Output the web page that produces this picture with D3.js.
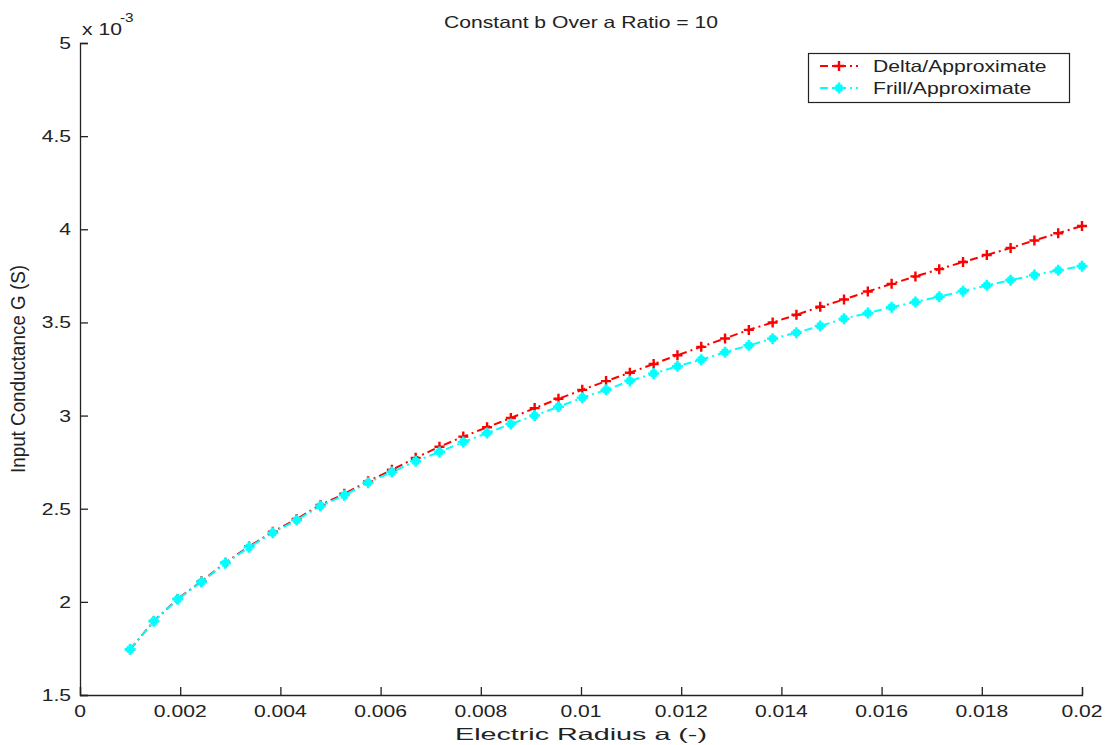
<!DOCTYPE html>
<html>
<head>
<meta charset="utf-8">
<script src="https://cdn.jsdelivr.net/npm/d3@7"></script>
<style>
  body { margin: 0; background: #fff; }
  text { font-family: "Liberation Sans", Arial, sans-serif; fill: #222; }
</style>
</head>
<body>
<div id="chart"></div>
<script>
// donnees (G en unites de 1e-3 S)
var radius = [0.001, 0.001475, 0.00195, 0.002425, 0.0029, 0.003375, 0.00385, 0.004325, 0.0048, 0.005275,
              0.00575, 0.006225, 0.0067, 0.007175, 0.00765, 0.008125, 0.0086, 0.009075, 0.00955, 0.010025,
              0.0105, 0.010975, 0.01145, 0.011925, 0.0124, 0.012875, 0.01335, 0.013825, 0.0143, 0.014775,
              0.01525, 0.015725, 0.0162, 0.016675, 0.01715, 0.017625, 0.0181, 0.018575, 0.01905, 0.019525, 0.02];
var deltaG = [1.745, 1.897, 2.016, 2.110, 2.210, 2.297, 2.376, 2.445, 2.520, 2.580,
              2.647, 2.709, 2.773, 2.833, 2.887, 2.937, 2.987, 3.040, 3.090, 3.138,
              3.185, 3.230, 3.277, 3.324, 3.369, 3.414, 3.460, 3.500, 3.541, 3.584,
              3.623, 3.666, 3.707, 3.747, 3.786, 3.824, 3.862, 3.900, 3.940, 3.979, 4.018];
var frillG = [1.745, 1.896, 2.014, 2.107, 2.207, 2.293, 2.371, 2.439, 2.515, 2.572,
              2.640, 2.697, 2.755, 2.805, 2.858, 2.906, 2.955, 3.000, 3.047, 3.096,
              3.138, 3.186, 3.226, 3.265, 3.300, 3.340, 3.377, 3.413, 3.445, 3.481,
              3.520, 3.550, 3.582, 3.610, 3.638, 3.668, 3.699, 3.727, 3.754, 3.780, 3.802];
var xTicks = [0, 0.002, 0.004, 0.006, 0.008, 0.01, 0.012, 0.014, 0.016, 0.018, 0.02];
var xTickLabels = ["0", "0.002", "0.004", "0.006", "0.008", "0.01", "0.012", "0.014", "0.016", "0.018", "0.02"];
var yTicks = [1.5, 2, 2.5, 3, 3.5, 4, 4.5, 5];
var yTickLabels = ["1.5", "2", "2.5", "3", "3.5", "4", "4.5", "5"];
var seriesNames = ["Delta/Approximate", "Frill/Approximate"];
var seriesColors = ["#ff0000", "#00ffff"];

var W = 1107, H = 745;
var plotLeft = 80, plotRight = 1082, plotTop = 43, plotBottom = 695;
var stretch = 1.28; // le texte de la capture est etire en largeur

var svg = d3.select('#chart').append('svg').attr('width', W).attr('height', H);
svg.append('rect').attr('width', W).attr('height', H).attr('fill', '#fff');

var x = d3.scaleLinear().domain([0, 0.02]).range([plotLeft, plotRight]);
var y = d3.scaleLinear().domain([1.5, 5]).range([plotBottom, plotTop]);

// texte etire horizontalement
function label(px, py, txt, size, anchor, rot){
    var g = svg.append('g').attr('transform', 'translate(' + px + ',' + py + ')' + (rot ? ' rotate(' + rot + ')' : ''));
    return g.append('text')
        .attr('transform', rot ? 'scale(1,' + stretch + ')' : 'scale(' + stretch + ',1)')
        .attr('text-anchor', anchor)
        .style('font-size', size + 'px')
        .text(txt);
}

/* ---- axes (ticks vers l'interieur) ---- */
var xAxis = d3.axisBottom(x).tickValues(xTicks).tickSize(-8).tickFormat(function(){ return ''; });
var gx = svg.append('g').attr('transform', 'translate(0,' + plotBottom + ')').call(xAxis);
var yAxis = d3.axisLeft(y).tickValues(yTicks).tickSize(-8).tickFormat(function(){ return ''; });
var gy = svg.append('g').attr('transform', 'translate(' + plotLeft + ',0)').call(yAxis);
[gx, gy].forEach(function(g){
    g.select('.domain').attr('stroke', '#222').attr('stroke-width', 1.3);
    g.selectAll('.tick line').attr('stroke', '#222').attr('stroke-width', 1.3);
});

xTicks.forEach(function(t, i){
    label(x(t), 717, xTickLabels[i], 16.5, 'middle');
});
yTicks.forEach(function(t, i){
    label(71, y(t) + 6, yTickLabels[i], 16.5, 'end');
});

// multiplicateur
label(82, 35, 'x 10', 16.5, 'start');
label(120, 22, '-3', 12, 'start');

// titres
label((plotLeft + plotRight) / 2, 28, 'Constant b Over a Ratio = 10', 16.5, 'middle');
label((plotLeft + plotRight) / 2, 740, 'Electric Radius a (-)', 16.5, 'middle')
    .attr('transform', null)
    .attr('textLength', 252).attr('lengthAdjust', 'spacingAndGlyphs');
label(25, (plotTop + plotBottom) / 2, 'Input Conductance G (S)', 15.5, 'middle', -90)
    .attr('textLength', 208).attr('lengthAdjust', 'spacingAndGlyphs');

/* ---- series ---- */
var line = d3.line().x(function(d){ return x(d[0]); }).y(function(d){ return y(d[1]); });

function plusPath(s){ return 'M' + (-s) + ',0H' + s + 'M0,' + (-s) + 'V' + s; }
function starPath(s){
    var d = s * 0.55;
    return plusPath(s) + 'M' + (-d) + ',' + (-d) + 'L' + d + ',' + d + 'M' + (-d) + ',' + d + 'L' + d + ',' + (-d);
}

var series = [deltaG, frillG];
var markers = [plusPath(5), starPath(5.5)];

series.forEach(function(vals, k){
    var pts = radius.map(function(r, i){ return [r, vals[i]]; });
    svg.append('path').datum(pts)
        .attr('d', line)
        .attr('fill', 'none')
        .attr('stroke', seriesColors[k])
        .attr('stroke-width', 2)
        .attr('stroke-dasharray', '8,4,2,4');
    svg.append('g').selectAll('path').data(pts).enter().append('path')
        .attr('transform', function(d){ return 'translate(' + x(d[0]) + ',' + y(d[1]) + ')'; })
        .attr('d', markers[k])
        .attr('fill', 'none')
        .attr('stroke', seriesColors[k])
        .attr('stroke-width', k == 1 ? 2.6 : 2.4);
});

/* ---- legende ---- */
var lg = svg.append('g');
lg.append('rect').attr('x', 808.5).attr('y', 53.5).attr('width', 261).attr('height', 49)
    .attr('fill', '#fff').attr('stroke', '#222').attr('stroke-width', 1.2);
seriesNames.forEach(function(name, k){
    var ly = 66 + k * 22;
    lg.append('line').attr('x1', 820).attr('x2', 858).attr('y1', ly).attr('y2', ly)
        .attr('stroke', seriesColors[k]).attr('stroke-width', 2).attr('stroke-dasharray', '8,4,2,4');
    lg.append('path').attr('transform', 'translate(839,' + ly + ')').attr('d', markers[k])
        .attr('fill', 'none').attr('stroke', seriesColors[k]).attr('stroke-width', k == 1 ? 2.6 : 2.4);
    label(873, ly + 6, name, 16.5, 'start');
});
</script>
</body>
</html>
